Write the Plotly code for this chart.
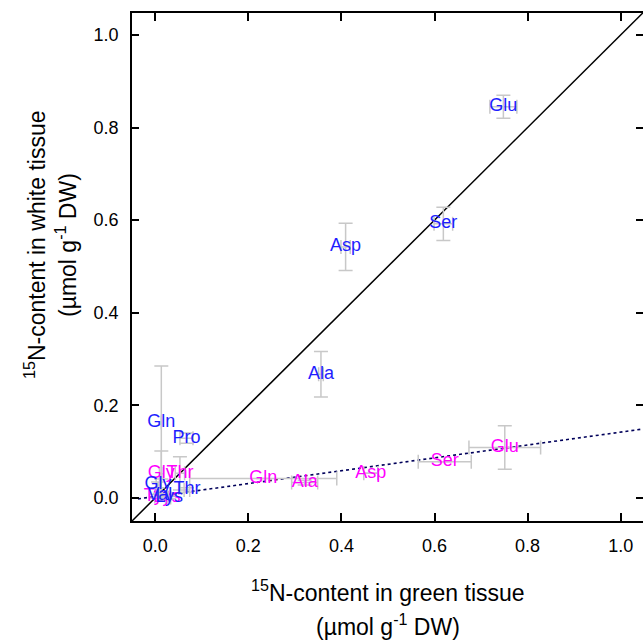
import plotly.graph_objects as go

# 15N content per amino acid: white tissue (blue set) and green-vs-white comparison (magenta set)
blue_names = ["Glu", "Ser", "Asp", "Ala", "Gln", "Pro", "Gly", "Thr", "Val", "Lys"]
blue_x = [0.748, 0.619, 0.409, 0.356, 0.013, 0.067, 0.006, 0.068, 0.010, 0.030]
blue_y = [0.845, 0.592, 0.542, 0.267, 0.163, 0.129, 0.028, 0.017, 0.006, 0.001]
blue_ex = [0.029, 0.020, 0.010, 0.005, 0.000, 0.014, 0.004, 0.006, 0.003, 0.003]
blue_ey = [0.025, 0.036, 0.051, 0.049, 0.122, 0.011, 0.006, 0.005, 0.004, 0.003]

mag_names = ["Glu", "Ser", "Asp", "Ala", "Gln", "Gly", "Thr", "Tyr", "Lys"]
mag_x = [0.751, 0.622, 0.463, 0.321, 0.232, 0.013, 0.053, 0.002, 0.025]
mag_y = [0.109, 0.078, 0.053, 0.033, 0.042, 0.052, 0.053, 0.003, 0.000]
mag_ex = [0.077, 0.057, 0.015, 0.028, 0.158, 0.004, 0.010, 0.003, 0.003]
mag_ey = [0.047, 0.000, 0.000, 0.005, 0.000, 0.049, 0.036, 0.004, 0.003]

# reference lines: 1:1 line and regression through the magenta set
ident_x = [-0.05, 1.05]
fit_x = [-0.037, 1.05]
fit_slope = 0.139
fit_intercept = 0.003

tick_vals = [0.0, 0.2, 0.4, 0.6, 0.8, 1.0]
tick_text = ["0.0", "0.2", "0.4", "0.6", "0.8", "1.0"]

x_range = [-0.05, 1.048]
y_range = [-0.05, 1.0475]

FONT = "Liberation Sans, Arial, sans-serif"
GREY = "rgb(200,200,200)"
BLUE = "rgb(30,30,255)"
MAGENTA = "rgb(255,0,255)"

fig = go.Figure()

fig.add_trace(go.Scatter(
    x=ident_x, y=ident_x, mode="lines",
    line=dict(color="black", width=1.5), hoverinfo="skip", showlegend=False))

fig.add_trace(go.Scatter(
    x=fit_x, y=[fit_intercept + fit_slope * v for v in fit_x], mode="lines",
    line=dict(color="rgb(0,0,90)", width=1.6, dash="dot"),
    hoverinfo="skip", showlegend=False))


def labelled_set(names, xs, ys, ex, ey, color):
    return go.Scatter(
        x=xs, y=ys, mode="text", text=names, textposition="middle center",
        textfont=dict(family=FONT, size=18, color=color),
        error_x=dict(type="data", array=ex, color=GREY, thickness=1.5, width=7),
        error_y=dict(type="data", array=ey, color=GREY, thickness=1.5, width=7),
        showlegend=False, hoverinfo="text")


fig.add_trace(labelled_set(mag_names, mag_x, mag_y, mag_ex, mag_ey, MAGENTA))
fig.add_trace(labelled_set(blue_names, blue_x, blue_y, blue_ex, blue_ey, BLUE))

# carrier for the right-hand tick marks
fig.add_trace(go.Scatter(x=[None], y=[None], yaxis="y2", showlegend=False, hoverinfo="skip"))

fig.update_layout(
    width=643, height=644,
    margin=dict(l=132, r=0, t=13, b=123),
    paper_bgcolor="white", plot_bgcolor="white",
    font=dict(family=FONT, size=18, color="black"),
    xaxis=dict(
        range=x_range, showgrid=False, zeroline=False,
        showline=True, linecolor="black", linewidth=1.5, mirror="ticks",
        ticks="inside", ticklen=8, tickwidth=1.5, tickcolor="black",
        tickvals=tick_vals, ticktext=tick_text, ticklabelstandoff=8,
        tickfont=dict(family=FONT, size=18, color="black")),
    yaxis=dict(
        range=y_range, showgrid=False, zeroline=False,
        showline=True, linecolor="black", linewidth=1.5, mirror=False,
        ticks="inside", ticklen=7, tickwidth=1.5, tickcolor="black",
        tickvals=tick_vals, ticktext=tick_text, ticklabelstandoff=8,
        tickfont=dict(family=FONT, size=18, color="black")),
    yaxis2=dict(
        range=y_range, overlaying="y", side="right", showgrid=False,
        zeroline=False, showline=False, ticks="inside", ticklen=7,
        tickwidth=1.5, tickcolor="black", tickvals=tick_vals,
        showticklabels=False),
)

TITLE_FONT = dict(family=FONT, size=23, color="black")
for text, yc in [("<sup>15</sup>N-content in green tissue", 591),
                 ("(µmol g<sup>-1</sup> DW)", 625)]:
    fig.add_annotation(text=text, xref="paper", yref="paper",
                       x=(388 - 132) / 511, y=(644 - yc - 123) / 508,
                       showarrow=False, xanchor="center", yanchor="middle",
                       font=TITLE_FONT)

for text, xc in [("<sup>15</sup>N-content in white tissue", 35),
                 ("(µmol g<sup>-1</sup> DW)", 66)]:
    fig.add_annotation(text=text, xref="paper", yref="paper",
                       x=(xc - 132) / 511, y=(644 - 245 - 123) / 508,
                       showarrow=False, xanchor="center", yanchor="middle",
                       textangle=-90, font=TITLE_FONT)

fig.write_html("out.html")
